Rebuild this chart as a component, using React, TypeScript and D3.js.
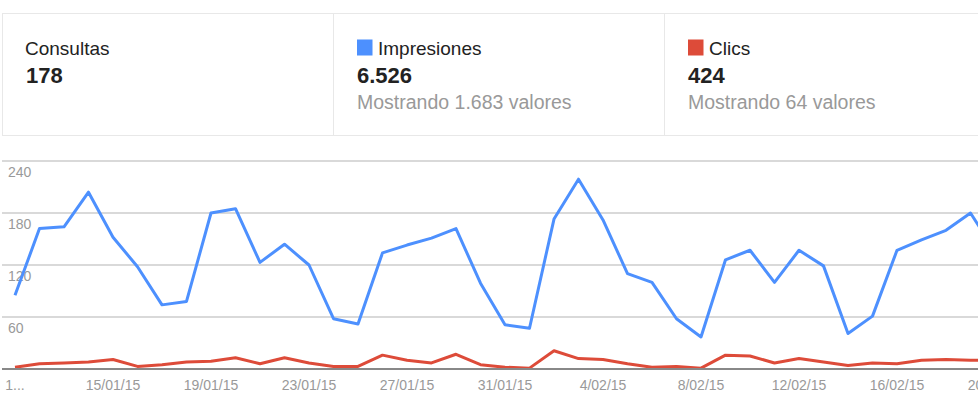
import { useEffect, useRef } from "react";
import * as d3 from "d3";

// días del periodo (11/01/15 - 20/02/15)
const fechas = [
  "2015-01-11", "2015-01-12", "2015-01-13", "2015-01-14", "2015-01-15", "2015-01-16", "2015-01-17",
  "2015-01-18", "2015-01-19", "2015-01-20", "2015-01-21", "2015-01-22", "2015-01-23", "2015-01-24",
  "2015-01-25", "2015-01-26", "2015-01-27", "2015-01-28", "2015-01-29", "2015-01-30", "2015-01-31",
  "2015-02-01", "2015-02-02", "2015-02-03", "2015-02-04", "2015-02-05", "2015-02-06", "2015-02-07",
  "2015-02-08", "2015-02-09", "2015-02-10", "2015-02-11", "2015-02-12", "2015-02-13", "2015-02-14",
  "2015-02-15", "2015-02-16", "2015-02-17", "2015-02-18", "2015-02-19", "2015-02-20",
];

const impresiones = [
  85, 162, 164, 204, 152, 118, 74, 78, 180, 185, 123, 144, 120, 58, 52, 134, 143, 151, 162, 99, 51,
  47, 173, 219, 172, 110, 100, 58, 37, 126, 137, 100, 137, 119, 41, 61, 137, 149, 160, 180, 136,
];

const clics = [
  2, 6, 7, 8, 11, 3, 5, 8, 9, 13, 6, 13, 7, 3, 3, 16, 10, 7, 17, 5, 2,
  1, 21, 12, 11, 6, 2, 3, 1, 16, 15, 7, 12, 8, 4, 7, 6, 10, 11, 10, 10,
];

const ticksY = [60, 120, 180, 240];
const ticksX = [
  "2015-01-11", "2015-01-15", "2015-01-19", "2015-01-23", "2015-01-27", "2015-01-31",
  "2015-02-04", "2015-02-08", "2015-02-12", "2015-02-16", "2015-02-20",
];

const tarjetas = [
  { titulo: "Consultas", total: "178", detalle: "", color: "" },
  { titulo: "Impresiones", total: "6.526", detalle: "Mostrando 1.683 valores", color: "#4d90fe" },
  { titulo: "Clics", total: "424", detalle: "Mostrando 64 valores", color: "#dd4b39" },
];

const FONT = "'Liberation Sans', Arial, sans-serif";

const App = () => {
  const svgRef = useRef(null);

  useEffect(() => {
    const width = 978;
    const height = 412;
    const svg = d3.select(svgRef.current);
    svg.selectAll("*").remove();
    svg.attr("width", width).attr("height", height);

    const parse = d3.timeParse("%Y-%m-%d");
    const fmt = d3.timeFormat("%-d/%m/%y");
    const dias = fechas.map((f) => parse(f) as Date);

    // tarjetas de arriba
    const cardW = 331;
    const head = svg.append("g").attr("font-family", FONT);
    head
      .append("rect")
      .attr("x", 2.5)
      .attr("y", 13.5)
      .attr("width", 1000)
      .attr("height", 122)
      .attr("fill", "white")
      .attr("stroke", "#e8e8e8");
    [1, 2].forEach((i) => {
      head
        .append("line")
        .attr("x1", 2.5 + i * cardW)
        .attr("x2", 2.5 + i * cardW)
        .attr("y1", 13.5)
        .attr("y2", 135.5)
        .attr("stroke", "#e8e8e8");
    });

    tarjetas.forEach((t, i) => {
      const x0 = 25 + i * cardW;
      const g = head.append("g");
      let tx = x0;
      if (t.color) {
        g.append("rect")
          .attr("x", x0 + 1)
          .attr("y", 39.5)
          .attr("width", 15.5)
          .attr("height", 16)
          .attr("fill", t.color);
        tx = x0 + 22;
      }
      g.append("text")
        .attr("x", tx)
        .attr("y", 55)
        .attr("font-size", "19px")
        .attr("fill", "#222")
        .text(t.titulo);
      g.append("text")
        .attr("x", x0 + 1)
        .attr("y", 83)
        .attr("font-size", "22px")
        .attr("font-weight", "bold")
        .attr("fill", "#222")
        .text(t.total);
      if (t.detalle) {
        g.append("text")
          .attr("x", x0 + 1)
          .attr("y", 109)
          .attr("font-size", "19.5px")
          .attr("fill", "#999")
          .text(t.detalle);
      }
    });

    // gráfico
    const xScale = d3
      .scaleTime()
      .domain([dias[0], dias[dias.length - 1]])
      .range([15, 995]);
    const yScale = d3.scaleLinear().domain([0, 240]).range([369, 161]);

    const chart = svg.append("g").attr("font-family", FONT);

    chart
      .selectAll(".grid")
      .data(ticksY)
      .enter()
      .append("line")
      .attr("class", "grid")
      .attr("x1", 2)
      .attr("x2", width)
      .attr("y1", (d) => yScale(d))
      .attr("y2", (d) => yScale(d))
      .attr("stroke", "#cccccc")
      .attr("stroke-width", 1.5);

    chart
      .selectAll(".ylab")
      .data(ticksY)
      .enter()
      .append("text")
      .attr("class", "ylab")
      .attr("x", 8)
      .attr("y", (d) => yScale(d) + 16)
      .attr("font-size", "14px")
      .attr("fill", "#999")
      .text((d) => d);

    const linea = (vals: number[]) =>
      d3
        .line<number>()
        .x((_, i) => xScale(dias[i]))
        .y((d) => yScale(d))(vals);

    chart
      .append("path")
      .attr("d", linea(clics))
      .attr("fill", "none")
      .attr("stroke", "#dd4b39")
      .attr("stroke-width", 3)
      .attr("stroke-linejoin", "round");

    chart
      .append("path")
      .attr("d", linea(impresiones))
      .attr("fill", "none")
      .attr("stroke", "#4d90fe")
      .attr("stroke-width", 3)
      .attr("stroke-linejoin", "round");

    // línea base
    chart
      .append("line")
      .attr("x1", 2)
      .attr("x2", width)
      .attr("y1", yScale(0))
      .attr("y2", yScale(0))
      .attr("stroke", "#888")
      .attr("stroke-width", 2);

    chart
      .selectAll(".xlab")
      .data(ticksX.map((f) => parse(f) as Date))
      .enter()
      .append("text")
      .attr("class", "xlab")
      .attr("x", (d) => xScale(d))
      .attr("y", 390)
      .attr("text-anchor", "middle")
      .attr("font-size", "14px")
      .attr("fill", "#999")
      // la primera etiqueta sale cortada
      .text((d, i) => (i === 0 ? fmt(d).slice(0, 1) + "..." : fmt(d)));
  }, []);

  return (
    <div style={{ position: "absolute", left: 0, top: 0, width: 978, height: 412, overflow: "hidden", background: "white" }}>
      <svg ref={svgRef} style={{ display: "block" }}></svg>
    </div>
  );
};

export default App;
